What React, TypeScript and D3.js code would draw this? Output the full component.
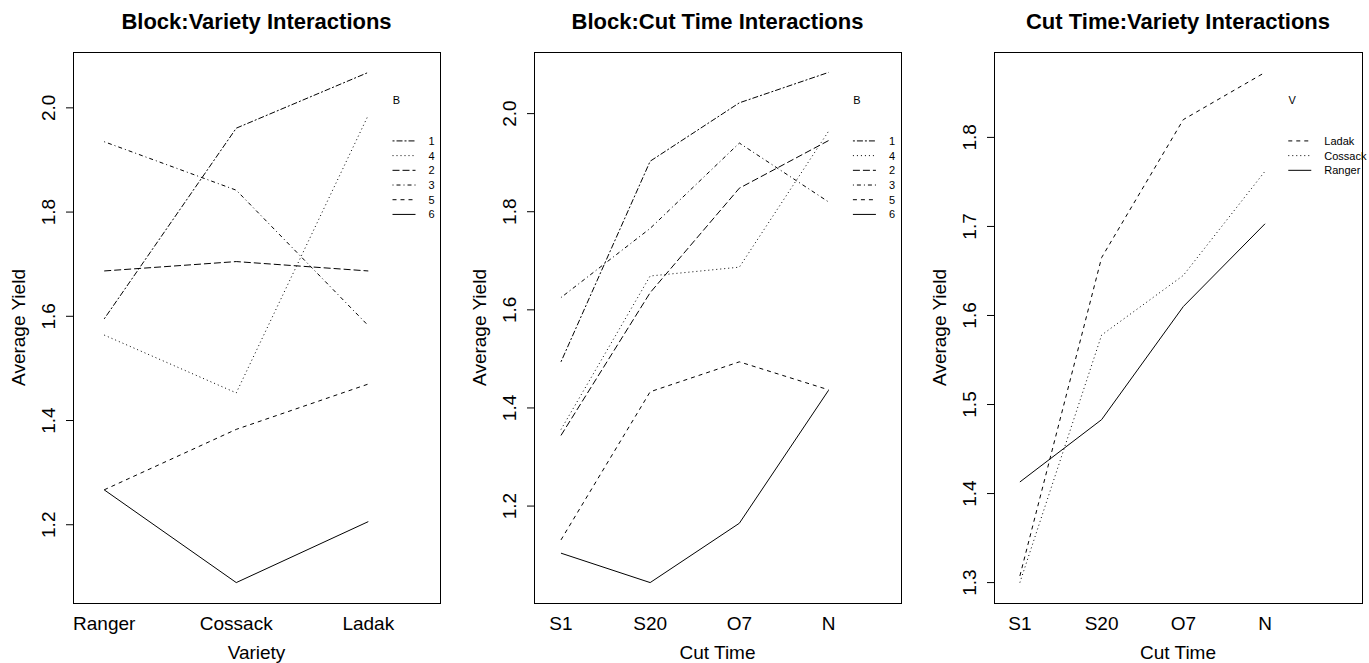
import React, { useEffect, useRef } from "react";
import * as d3 from "d3";

// x factor levels
const varieties = ["Ranger", "Cossack", "Ladak"];
const cutTimes = ["S1", "S20", "O7", "N"];
// trace factor levels
const blocks = ["1", "2", "3", "4", "5", "6"];
const varietyLevels = ["Cossack", "Ladak", "Ranger"];

// mean yield, one row per block (1..6), columns = varieties
const blockVarietyYield = [
  [1.595, 1.961, 2.068],
  [1.687, 1.705, 1.687],
  [1.935, 1.842, 1.582],
  [1.564, 1.453, 1.986],
  [1.267, 1.383, 1.47],
  [1.267, 1.089, 1.206],
];
// one row per block, columns = cut times
const blockCutYield = [
  [1.494, 1.903, 2.022, 2.084],
  [1.344, 1.635, 1.848, 1.945],
  [1.625, 1.766, 1.94, 1.82],
  [1.356, 1.669, 1.687, 1.964],
  [1.131, 1.433, 1.494, 1.437],
  [1.104, 1.044, 1.165, 1.436],
];
// one row per variety level (Cossack, Ladak, Ranger), columns = cut times
const cutVarietyYield = [
  [1.3, 1.578, 1.645, 1.762],
  [1.3075, 1.665, 1.82, 1.873],
  [1.413, 1.483, 1.61, 1.703],
];

const blockTicks = [1.2, 1.4, 1.6, 1.8, 2.0];
const cutVarietyTicks = [1.3, 1.4, 1.5, 1.6, 1.7, 1.8];

// R line types 1..6
const ltyDash = ["", "none", "4,4", "1,3", "1,3,4,3", "7,3", "2,2,6,2"];

const W = 1369;
const H = 663;
const TOP = 52;
const BOTTOM = 603;
const FONT = "'Liberation Sans', Arial, Helvetica, sans-serif";

function drawPanel(svg, p) {
  const { left, right, title, xlab, xLevels, traceLevels, cells, ticks, legendTitle } = p;
  const g = svg.append("g");
  const nx = xLevels.length;
  const nt = traceLevels.length;

  // interaction.plot style x limits (room for the legend on the right)
  const nch = d3.max(traceLevels, (d) => d.length);
  const xl0 = 1 - (0.2 / nx) * (nx - 1);
  const xl1 = nx + (0.2 + 0.02 * nch) * (nx - 1);
  const xpad = 0.04 * (xl1 - xl0);
  const x = d3.scaleLinear().domain([xl0 - xpad, xl1 + xpad]).range([left, right]);

  const [lo, hi] = d3.extent(cells.flat());
  const ypad = 0.04 * (hi - lo);
  const y = d3.scaleLinear().domain([lo - ypad, hi + ypad]).range([BOTTOM, TOP]);

  const lty = (i) => ltyDash[nt - i];

  const line = d3
    .line()
    .x((d, i) => x(i + 1))
    .y((d) => y(d));

  g.selectAll("path.trace")
    .data(cells)
    .join("path")
    .attr("class", "trace")
    .attr("d", (d) => line(d))
    .attr("fill", "none")
    .attr("stroke", "#000")
    .attr("stroke-width", 1)
    .attr("stroke-dasharray", (d, i) => lty(i));

  // box
  g.append("rect")
    .attr("x", left + 0.5)
    .attr("y", TOP + 0.5)
    .attr("width", right - left)
    .attr("height", BOTTOM - TOP)
    .attr("fill", "none")
    .attr("stroke", "#000");

  // y axis
  g.selectAll("line.ytick")
    .data(ticks)
    .join("line")
    .attr("class", "ytick")
    .attr("x1", left - 7)
    .attr("x2", left)
    .attr("y1", (d) => y(d))
    .attr("y2", (d) => y(d))
    .attr("stroke", "#000");

  g.selectAll("text.ylab")
    .data(ticks)
    .join("text")
    .attr("class", "ylab")
    .attr("transform", (d) => `translate(${left - 18},${y(d)}) rotate(-90)`)
    .attr("text-anchor", "middle")
    .attr("font-family", FONT)
    .attr("font-size", 19)
    .text((d) => d.toFixed(1));

  // x tick labels
  g.selectAll("text.xlab")
    .data(xLevels)
    .join("text")
    .attr("class", "xlab")
    .attr("x", (d, i) => x(i + 1))
    .attr("y", 630)
    .attr("text-anchor", "middle")
    .attr("font-family", FONT)
    .attr("font-size", 19)
    .text((d) => d);

  const cx = (left + right) / 2;
  g.append("text")
    .attr("x", cx)
    .attr("y", 659)
    .attr("text-anchor", "middle")
    .attr("font-family", FONT)
    .attr("font-size", 19)
    .text(xlab);

  g.append("text")
    .attr("transform", `translate(${left - 48},${(TOP + BOTTOM) / 2}) rotate(-90)`)
    .attr("text-anchor", "middle")
    .attr("font-family", FONT)
    .attr("font-size", 19)
    .text("Average Yield");

  g.append("text")
    .attr("x", cx)
    .attr("y", 29)
    .attr("text-anchor", "middle")
    .attr("font-family", FONT)
    .attr("font-size", 22)
    .attr("font-weight", "bold")
    .text(title);

  // legend, ordered by value at the last x level
  const xleg = x(nx + 0.05 * (nx - 1));
  const yleg = y(hi - 0.05 * (hi - lo));
  const ord = d3.range(nt).sort((a, b) => cells[b][nx - 1] - cells[a][nx - 1]);

  g.append("text")
    .attr("x", xleg + 15)
    .attr("y", yleg + 6)
    .attr("text-anchor", "middle")
    .attr("font-family", FONT)
    .attr("font-size", 11)
    .text(legendTitle);

  const rows = g
    .selectAll("g.leg")
    .data(ord)
    .join("g")
    .attr("class", "leg")
    .attr("transform", (d, k) => `translate(${xleg},${yleg + 43 + k * 14.7})`);

  rows
    .append("line")
    .attr("x1", 11)
    .attr("x2", 34)
    .attr("y1", 0)
    .attr("y2", 0)
    .attr("stroke", "#000")
    .attr("stroke-dasharray", (d) => lty(d));

  rows
    .append("text")
    .attr("x", 47)
    .attr("y", 4)
    .attr("font-family", FONT)
    .attr("font-size", 11)
    .text((d) => traceLevels[d]);
}

export default function App() {
  const ref = useRef(null);

  useEffect(() => {
    const svg = d3.select(ref.current);
    svg.selectAll("*").remove();

    drawPanel(svg, {
      left: 73,
      right: 440,
      title: "Block:Variety Interactions",
      xlab: "Variety",
      xLevels: varieties,
      traceLevels: blocks,
      cells: blockVarietyYield,
      ticks: blockTicks,
      legendTitle: "B",
    });
    drawPanel(svg, {
      left: 534,
      right: 901,
      title: "Block:Cut Time Interactions",
      xlab: "Cut Time",
      xLevels: cutTimes,
      traceLevels: blocks,
      cells: blockCutYield,
      ticks: blockTicks,
      legendTitle: "B",
    });
    drawPanel(svg, {
      left: 994,
      right: 1362,
      title: "Cut Time:Variety Interactions",
      xlab: "Cut Time",
      xLevels: cutTimes,
      traceLevels: varietyLevels,
      cells: cutVarietyYield,
      ticks: cutVarietyTicks,
      legendTitle: "V",
    });
  }, []);

  return (
    <svg
      ref={ref}
      width={W}
      height={H}
      style={{ position: "absolute", left: 0, top: 0, background: "#fff" }}
    />
  );
}
